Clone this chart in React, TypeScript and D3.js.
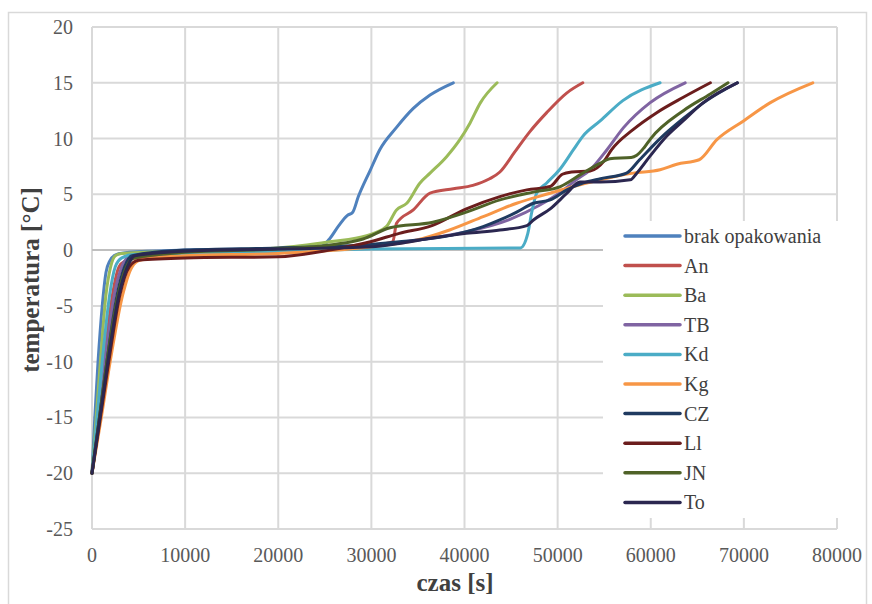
import React from 'react';
import * as d3 from 'd3';

// czas [s], temperatura [°C]
const brakOpakowania = [
  [0, -20], [300, -15], [650, -10], [1100, -5], [1500, -2], [1900, -1], [2600, -0.4], [4000, -0.2],
  [10000, 0], [20000, 0.15], [24600, 0.3], [25500, 1.0], [26500, 2.2], [27400, 3.1], [28000, 3.4],
  [28600, 4.8], [29900, 7.2], [30900, 9.0], [32700, 11.0], [34500, 12.7], [36300, 13.9], [38800, 15.0],
];
const an = [
  [0, -20], [650, -15], [1300, -10], [2200, -4], [2900, -1.5], [3500, -1.0], [5000, -0.7],
  [10000, -0.4], [20000, -0.2], [30000, 0.4], [32300, 0.75], [32700, 2.4], [34500, 3.6], [36300, 5.1],
  [38800, 5.5], [40900, 5.8], [42700, 6.4], [43800, 7.0], [45400, 8.8], [47000, 10.6], [48800, 12.3],
  [51000, 14.1], [52700, 15.0],
];
const ba = [
  [0, -20], [450, -15], [900, -10], [1500, -4], [2000, -1.5], [2500, -0.5], [3200, -0.3],
  [10000, -0.1], [20000, 0.2], [25500, 0.75], [29500, 1.3], [31600, 2.1], [32700, 3.6], [33800, 4.2],
  [35200, 6.0], [36300, 6.9], [38100, 8.4], [39500, 9.9], [40600, 11.4], [41700, 13.2], [43500, 15.0],
];
const tb = [
  [0, -20], [700, -15], [1400, -10], [2400, -4], [3200, -1.5], [4000, -0.6], [10000, -0.2],
  [20000, 0.0], [30000, 0.4], [35000, 0.9], [40000, 1.6], [45000, 2.8], [48000, 4.0], [50000, 5.0],
  [52000, 6.3], [53500, 7.2], [55300, 9.0], [57100, 11.0], [59900, 13.2], [63700, 15.0],
];
const kd = [
  [0, -20], [550, -15], [1100, -10], [1900, -4], [2500, -1.5], [3200, -0.7], [4500, -0.4],
  [10000, -0.3], [20000, -0.1], [30000, 0.1], [46000, 0.2], [46800, 1.5], [47200, 3.3], [47750, 5.1],
  [48800, 6.0], [50200, 7.2], [51700, 9.0], [52700, 10.2], [54600, 11.6], [57000, 13.4], [61000, 15.0],
];
const kg = [
  [0, -20], [1000, -15], [1950, -10], [3300, -4], [4300, -1.5], [5200, -0.9], [10000, -0.5],
  [20000, -0.3], [30000, 0.3], [34900, 0.9], [38400, 1.8], [42000, 3.0], [45600, 4.2], [49200, 5.1],
  [51700, 5.7], [54600, 6.3], [58100, 6.9], [61000, 7.2], [62800, 7.7], [65200, 8.1], [67100, 9.9],
  [70000, 11.6], [72800, 13.2], [77400, 15.0],
];
const cz = [
  [0, -20], [800, -15], [1600, -10], [2700, -4], [3500, -1.5], [4300, -0.5], [10000, 0.0],
  [20000, 0.2], [30000, 0.5], [33000, 0.75], [38400, 1.3], [42000, 2.1], [43800, 2.7], [45600, 3.4],
  [47400, 4.2], [49200, 4.5], [51000, 5.4], [52700, 6.0], [54600, 6.4], [57400, 6.9], [58800, 8.1],
  [61000, 10.0], [63500, 11.8], [66000, 13.4], [69300, 15.0],
];
const l1 = [
  [0, -20], [900, -15], [1800, -10], [3000, -4], [4000, -1.5], [5000, -0.9], [10000, -0.7],
  [20000, -0.6], [25500, 0.0], [29900, 0.75], [33000, 1.5], [36500, 2.2], [40200, 3.7], [43800, 4.8],
  [46700, 5.4], [49200, 5.7], [50500, 6.8], [51500, 7.0], [53500, 7.1], [55000, 8.0], [55800, 9.0],
  [58100, 10.8], [60600, 12.3], [63500, 13.7], [66400, 15.0],
];
const jn = [
  [0, -20], [800, -15], [1600, -10], [2800, -4], [3700, -1.5], [4500, -0.7], [10000, -0.2],
  [20000, 0.1], [26000, 0.5], [29100, 1.0], [32000, 2.0], [36600, 2.5], [40200, 3.4], [43800, 4.5],
  [47400, 5.2], [50300, 5.7], [52700, 6.9], [54600, 7.8], [55600, 8.2], [57900, 8.3], [58500, 8.5],
  [59300, 9.2], [60000, 10.0], [63500, 12.5], [66400, 14.0], [68300, 15.0],
];
const to = [
  [0, -20], [850, -15], [1700, -10], [2900, -4], [3800, -1.5], [4600, -0.5], [10000, -0.1],
  [20000, 0.1], [30000, 0.3], [33000, 0.6], [36600, 1.1], [40200, 1.5], [43800, 1.8], [46700, 2.2],
  [47400, 2.7], [49200, 3.7], [51000, 5.1], [52400, 6.1], [54600, 6.1], [57800, 6.3], [58500, 6.9],
  [59900, 8.4], [61700, 10.2], [63500, 11.6], [65600, 13.2], [69300, 15.0],
];

const seriesNames = ['brak opakowania', 'An', 'Ba', 'TB', 'Kd', 'Kg', 'CZ', 'Ll', 'JN', 'To'];
const seriesData = [brakOpakowania, an, ba, tb, kd, kg, cz, l1, jn, to];
const seriesColors = ['#4f81bd', '#c0504d', '#9bbb59', '#8064a2', '#4bacc6', '#f79646', '#1f3a60', '#6b1d1d', '#4f6228', '#2b2750'];

const xTicks = [0, 10000, 20000, 30000, 40000, 50000, 60000, 70000, 80000];
const yTicks = [-25, -20, -15, -10, -5, 0, 5, 10, 15, 20];

const width = 872;
const height = 604;
const font = 'Liberation Serif';

const App = () => {
  const x = d3.scaleLinear().domain([0, 80000]).range([92, 837]);
  const y = d3.scaleLinear().domain([-25, 20]).range([529, 27]);

  const line = d3.line<number[]>()
    .x(d => x(d[0]))
    .y(d => y(d[1]))
    .curve(d3.curveMonotoneX);

  return (
    <svg width={width} height={height} fontFamily={font} style={{ position: 'absolute', left: 0, top: 0 }}>
      <rect x={0} y={0} width={width} height={height} fill="white" />
      {/* chart frame */}
      <rect x={8.5} y={12.5} width={858} height={620} fill="none" stroke="#d9d9d9" strokeWidth={1.5} />

      {/* grid */}
      {xTicks.map(t => (
        <line key={'gx' + t} x1={x(t)} x2={x(t)} y1={y(20)} y2={y(-25)} stroke="#d9d9d9" strokeWidth={2} />
      ))}
      {yTicks.map(t => (
        <line key={'gy' + t} x1={x(0)} x2={x(80000)} y1={y(t)} y2={y(t)}
          stroke={t === 0 ? '#bfbfbf' : '#d9d9d9'} strokeWidth={2} />
      ))}

      {/* tick labels */}
      {yTicks.map(t => (
        <text key={'ly' + t} x={73} y={y(t)} dy="0.35em" textAnchor="end"
          fontFamily={font} fontSize={20} fill="#595959">{t}</text>
      ))}
      {xTicks.map(t => (
        <text key={'lx' + t} x={x(t)} y={562} textAnchor="middle"
          fontFamily={font} fontSize={20} fill="#595959">{t}</text>
      ))}

      {/* axis titles */}
      <text x={455} y={591} textAnchor="middle" fontFamily={font} fontSize={25}
        fontWeight="bold" fill="#404040">czas [s]</text>
      <text transform="translate(39,280) rotate(-90)" textAnchor="middle" fontFamily={font}
        fontSize={25} fontWeight="bold" fill="#404040">temperatura [°C]</text>

      {/* series */}
      {seriesData.map((d, i) => (
        <path key={seriesNames[i]} d={line(d as number[][]) || ''} fill="none" stroke={seriesColors[i]}
          strokeWidth={3} strokeLinejoin="round" strokeLinecap="round" />
      ))}

      {/* legend */}
      <rect x={603} y={221} width={242} height={297} fill="white" />
      {seriesNames.map((name, i) => (
        <g key={'lg' + name} transform={`translate(625,${236 + i * 29.6})`}>
          <line x1={0} x2={55} y1={0} y2={0} stroke={seriesColors[i]} strokeWidth={3.5} strokeLinecap="round" />
          <text x={59} y={0} dy="0.35em" fontFamily={font} fontSize={20} fill="#404040">{name}</text>
        </g>
      ))}
    </svg>
  );
};

export default App;
